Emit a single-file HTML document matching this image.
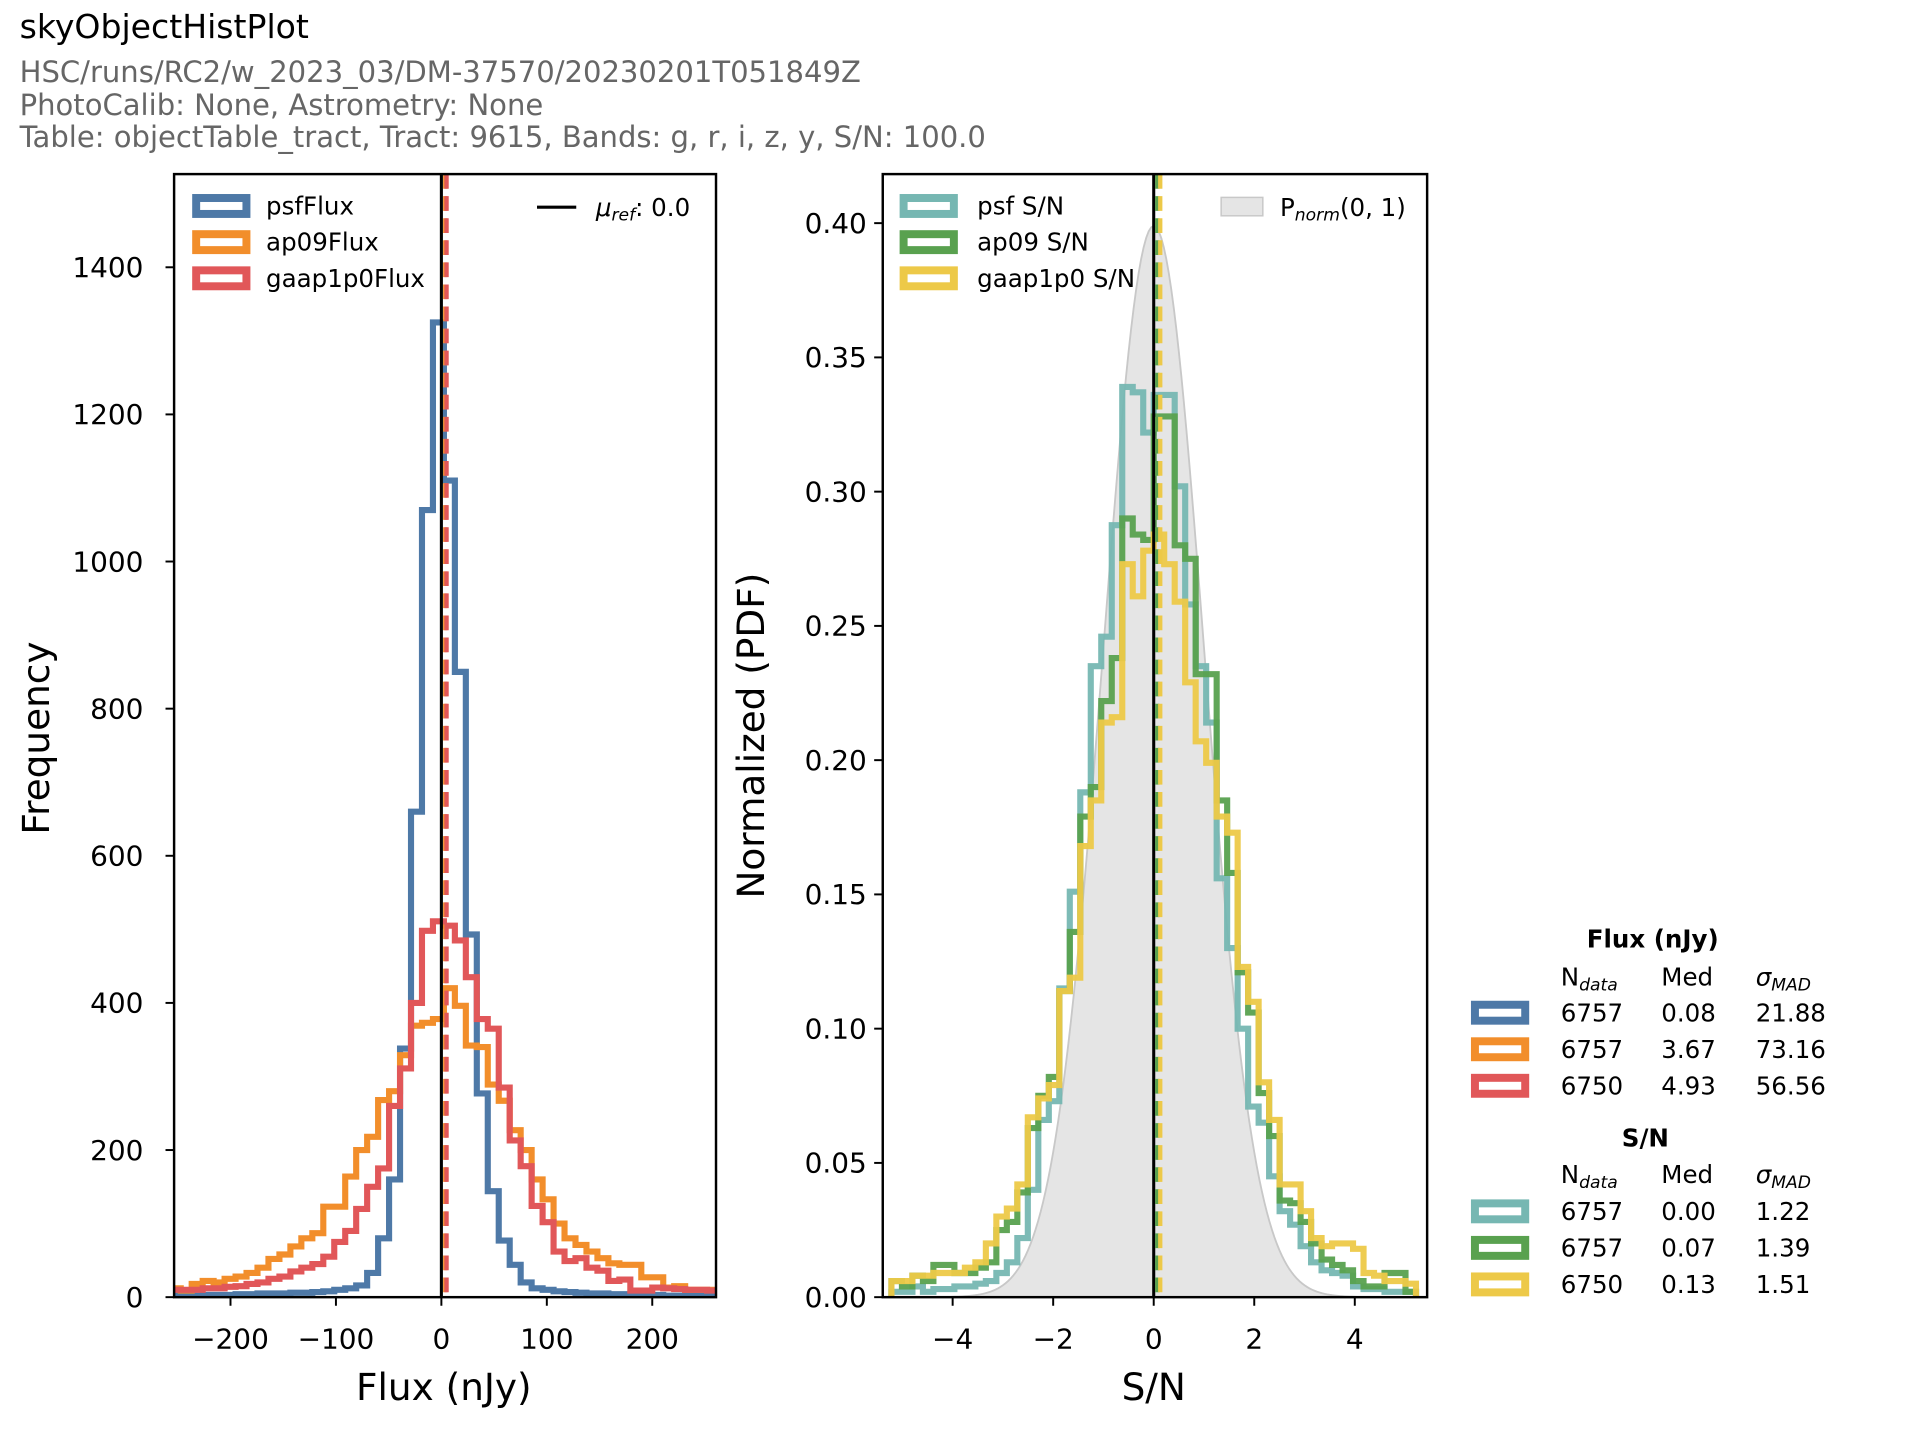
<!DOCTYPE html>
<html><head><meta charset="utf-8">
<style>
html,body{margin:0;padding:0;background:#fff;}
svg{display:block;}
text{font-family:"DejaVu Sans","Liberation Sans",sans-serif;}
</style></head>
<body>
<svg id="s" width="1920" height="1440" viewBox="0 0 1566 1174.5" xmlns="http://www.w3.org/2000/svg">
<rect width="1566" height="1174.5" fill="#fff"/>
<defs>
<clipPath id="cl"><rect x="142" y="142" width="442" height="916"/></clipPath>
<clipPath id="cr"><rect x="720" y="142" width="444" height="916"/></clipPath>
</defs>
<text x="16" y="31" font-size="27" fill="#000">skyObjectHistPlot</text>
<text x="16" y="67" font-size="23.7" fill="#666">HSC/runs/RC2/w_2023_03/DM-37570/20230201T051849Z</text>
<text x="16" y="94" font-size="23.7" fill="#666">PhotoCalib: None, Astrometry: None</text>
<text x="16" y="120" font-size="23.7" fill="#666">Table: objectTable_tract, Tract: 9615, Bands: g, r, i, z, y, S/N: 100.0</text>
<g id="gl" clip-path="url(#cl)"></g>
<g id="gr" clip-path="url(#cr)"></g>
<g id="ax"></g>
</svg>
<script>
var NS="http://www.w3.org/2000/svg";
function el(p,t,a,txt){var e=document.createElementNS(NS,t);for(var k in a)e.setAttribute(k,a[k]);if(txt!==undefined)e.textContent=txt;p.appendChild(e);return e;}
var gl=document.getElementById('gl'),gr=document.getElementById('gr'),ax=document.getElementById('ax');
var TF=22.8, LF=20;
function step(g,edges,vals,fx,fy,col,op){
  var d="M"+fx(edges[0])+" "+fy(0);
  for(var i=0;i<vals.length;i++){d+=" L"+fx(edges[i])+" "+fy(vals[i])+" L"+fx(edges[i+1])+" "+fy(vals[i]);}
  d+=" L"+fx(edges[vals.length])+" "+fy(0);
  el(g,'path',{d:d,fill:'none',stroke:col,'stroke-width':5,'stroke-linejoin':'miter',opacity:op||1});
}
var lx=function(v){return 360+0.86*v;}, ly=function(c){return 1058-0.6*c;};
var le=[];for(var j=-25;j<=25;j++)le.push(2.4+10.4*j);
var blue=[2,2,2,3,3,3,4,4,5,5,5,6,6,7,8,10,12,16,33,80,160,338,660,1070,1325,1110,850,493,277,144,77,44,20,12,10,8,7,6,5,5,4,4,3,3,3,2,2,2,2,2];
var orange=[12,9,18,22,20,25,28,33,40,52,58,69,80,87,123,123,164,200,218,268,280,329,369,373,378,420,396,342,340,289,267,227,200,160,133,100,80,71,62,53,46,44,44,27,27,13,15,10,10,10];
var red=[10,10,10,12,12,14,15,18,20,25,28,35,40,45,55,75,90,120,150,175,260,311,400,498,511,505,485,435,378,365,285,213,178,124,102,62,49,53,40,36,22,24,9,9,13,12,11,10,10,9];
step(gl,le,blue,lx,ly,'#4e79a7');
step(gl,le,orange,lx,ly,'#f28e2b');
step(gl,le,red,lx,ly,'#e15759');
el(gl,'line',{x1:360,y1:142,x2:360,y2:1058,stroke:'#000','stroke-width':2.5});
el(gl,'line',{x1:lx(3.67),y1:142,x2:lx(3.67),y2:1058,stroke:'#f28e2b','stroke-width':3.5,'stroke-dasharray':'12 6'});
el(gl,'line',{x1:lx(4.93),y1:142,x2:lx(4.93),y2:1058,stroke:'#e15759','stroke-width':3.5,'stroke-dasharray':'12 6'});
var rx=function(s){return 941+41*s;}, ry=function(p){return 1058-2190*p;};
var gd="M"+rx(-5.5)+" "+ry(0);
for(var s=-5.5;s<=5.5001;s+=0.05){gd+=" L"+rx(s).toFixed(2)+" "+ry(Math.exp(-s*s/2)/Math.sqrt(2*Math.PI)).toFixed(2);}
gd+=" L"+rx(5.5)+" "+ry(0)+"Z";
el(gr,'path',{d:gd,fill:'#e5e5e5',stroke:'#c8c8c8','stroke-width':1.5});
var re=[];for(var j=-25;j<=25;j++)re.push(j*0.2087);
var teal=[0.002,0.002,0.004,0.002,0.003,0.003,0.004,0.004,0.005,0.006,0.009,0.013,0.022,0.040,0.066,0.073,0.115,0.151,0.188,0.235,0.246,0.2875,0.339,0.337,0.322,0.336,0.336,0.302,0.258,0.235,0.214,0.156,0.130,0.100,0.071,0.065,0.045,0.032,0.027,0.019,0.013,0.010,0.009,0.008,0.004,0.003,0.003,0.002,0.002,0.002];
var green=[0.006,0.004,0.008,0.006,0.012,0.012,0.009,0.009,0.011,0.013,0.025,0.028,0.039,0.063,0.075,0.082,0.114,0.136,0.179,0.190,0.222,0.238,0.290,0.284,0.282,0.328,0.328,0.280,0.275,0.232,0.232,0.185,0.158,0.121,0.106,0.076,0.060,0.036,0.035,0.028,0.020,0.014,0.012,0.010,0.006,0.004,0.004,0.009,0.009,0.002];
var yellow=[0.006,0.006,0.008,0.008,0.009,0.009,0.009,0.011,0.013,0.020,0.030,0.033,0.042,0.067,0.074,0.079,0.114,0.119,0.168,0.185,0.214,0.216,0.273,0.261,0.278,0.284,0.273,0.259,0.229,0.207,0.199,0.179,0.173,0.123,0.110,0.080,0.066,0.042,0.042,0.032,0.022,0.019,0.020,0.020,0.018,0.009,0.008,0.006,0.006,0.005];
step(gr,re,teal,rx,ry,'#76b7b2',0.95);
step(gr,re,green,rx,ry,'#59a14f',0.95);
step(gr,re,yellow,rx,ry,'#edc948',0.95);
el(gr,'line',{x1:941,y1:142,x2:941,y2:1058,stroke:'#000','stroke-width':2.5});
el(gr,'line',{x1:rx(0.07),y1:142,x2:rx(0.07),y2:1058,stroke:'#59a14f','stroke-width':3.5,'stroke-dasharray':'12 6'});
el(gr,'line',{x1:rx(0.13),y1:142,x2:rx(0.13),y2:1058,stroke:'#edc948','stroke-width':3.5,'stroke-dasharray':'12 6'});
el(ax,'rect',{x:142,y:142,width:442,height:916,fill:'none',stroke:'#000','stroke-width':2});
el(ax,'rect',{x:720,y:142,width:444,height:916,fill:'none',stroke:'#000','stroke-width':2});
for(var c=0;c<=1400;c+=200){var y=ly(c);el(ax,'line',{x1:135,y1:y,x2:142,y2:y,stroke:'#000','stroke-width':1.6});el(ax,'text',{x:117,y:y+8,'font-size':TF,'text-anchor':'end'},String(c));}
[-200,-100,0,100,200].forEach(function(v){var x=lx(v);el(ax,'line',{x1:x,y1:1058,x2:x,y2:1065,stroke:'#000','stroke-width':1.6});el(ax,'text',{x:x,y:1100,'font-size':TF,'text-anchor':'middle'},(v<0?'\u2212'+(-v):String(v)));});
for(var k=0;k<=8;k++){var p=k*0.05;var y=ry(p);el(ax,'line',{x1:713,y1:y,x2:720,y2:y,stroke:'#000','stroke-width':1.6});el(ax,'text',{x:707,y:y+8,'font-size':TF,'text-anchor':'end'},p.toFixed(2));}
[-4,-2,0,2,4].forEach(function(v){var x=rx(v);el(ax,'line',{x1:x,y1:1058,x2:x,y2:1065,stroke:'#000','stroke-width':1.6});el(ax,'text',{x:x,y:1100,'font-size':TF,'text-anchor':'middle'},(v<0?'\u2212'+(-v):String(v)));});
el(ax,'text',{x:362,y:1142,'font-size':30.5,'text-anchor':'middle'},'Flux (nJy)');
el(ax,'text',{x:941,y:1142,'font-size':30.5,'text-anchor':'middle'},'S/N');
el(ax,'text',{x:0,y:0,'font-size':30.5,'text-anchor':'middle',transform:'translate(40,602) rotate(-90)'},'Frequency');
el(ax,'text',{x:0,y:0,'font-size':30.5,'text-anchor':'middle',transform:'translate(623,600) rotate(-90)'},'Normalized (PDF)');
function patch(x,y,col){el(ax,'rect',{x:x+3,y:y-6.5,width:41,height:13,fill:'#fff',stroke:col,'stroke-width':6.5});}
[['psfFlux','#4e79a7'],['ap09Flux','#f28e2b'],['gaap1p0Flux','#e15759']].forEach(function(a,i){var y=168+29.5*i;patch(157,y,a[1]);el(ax,'text',{x:217,y:y+7,'font-size':LF},a[0]);});
el(ax,'line',{x1:438,y1:169,x2:470,y2:169,stroke:'#000','stroke-width':2.5});
var t=el(ax,'text',{x:486,y:176,'font-size':LF});
el(t,'tspan',{'font-style':'italic'},'\u03bc');el(t,'tspan',{'font-style':'italic','font-size':14,dy:4},'ref');el(t,'tspan',{dy:-4},': 0.0');
[['psf S/N','#76b7b2'],['ap09 S/N','#59a14f'],['gaap1p0 S/N','#edc948']].forEach(function(a,i){var y=168+29.5*i;patch(734,y,a[1]);el(ax,'text',{x:797,y:y+7,'font-size':LF},a[0]);});
el(ax,'rect',{x:996,y:161,width:34,height:15,fill:'#e5e5e5',stroke:'#c8c8c8','stroke-width':1.2});
t=el(ax,'text',{x:1044,y:176,'font-size':LF});
el(t,'tspan',{},'P');el(t,'tspan',{'font-style':'italic','font-size':14,dy:4},'norm');el(t,'tspan',{dy:-4},'(0, 1)');
function hdr(y){var t=el(ax,'text',{x:1273,y:y,'font-size':LF});el(t,'tspan',{},'N');el(t,'tspan',{'font-style':'italic','font-size':14,dy:4},'data');
el(ax,'text',{x:1355,y:y,'font-size':LF},'Med');
t=el(ax,'text',{x:1432,y:y,'font-size':LF});el(t,'tspan',{'font-style':'italic'},'\u03c3');el(t,'tspan',{'font-style':'italic','font-size':14,dy:4},'MAD');}
el(ax,'text',{x:1348,y:773,'font-size':LF,'font-weight':'bold','text-anchor':'middle'},'Flux (nJy)');
hdr(804);
[['#4e79a7','6757','0.08','21.88'],['#f28e2b','6757','3.67','73.16'],['#e15759','6750','4.93','56.56']].forEach(function(a,i){var y=826+29.8*i;patch(1200,y,a[0]);el(ax,'text',{x:1273,y:y+7,'font-size':LF},a[1]);el(ax,'text',{x:1355,y:y+7,'font-size':LF},a[2]);el(ax,'text',{x:1432,y:y+7,'font-size':LF},a[3]);});
el(ax,'text',{x:1342,y:935,'font-size':LF,'font-weight':'bold','text-anchor':'middle'},'S/N');
hdr(965);
[['#76b7b2','6757','0.00','1.22'],['#59a14f','6757','0.07','1.39'],['#edc948','6750','0.13','1.51']].forEach(function(a,i){var y=988+29.8*i;patch(1200,y,a[0]);el(ax,'text',{x:1273,y:y+7,'font-size':LF},a[1]);el(ax,'text',{x:1355,y:y+7,'font-size':LF},a[2]);el(ax,'text',{x:1432,y:y+7,'font-size':LF},a[3]);});
</script>
</body></html>
